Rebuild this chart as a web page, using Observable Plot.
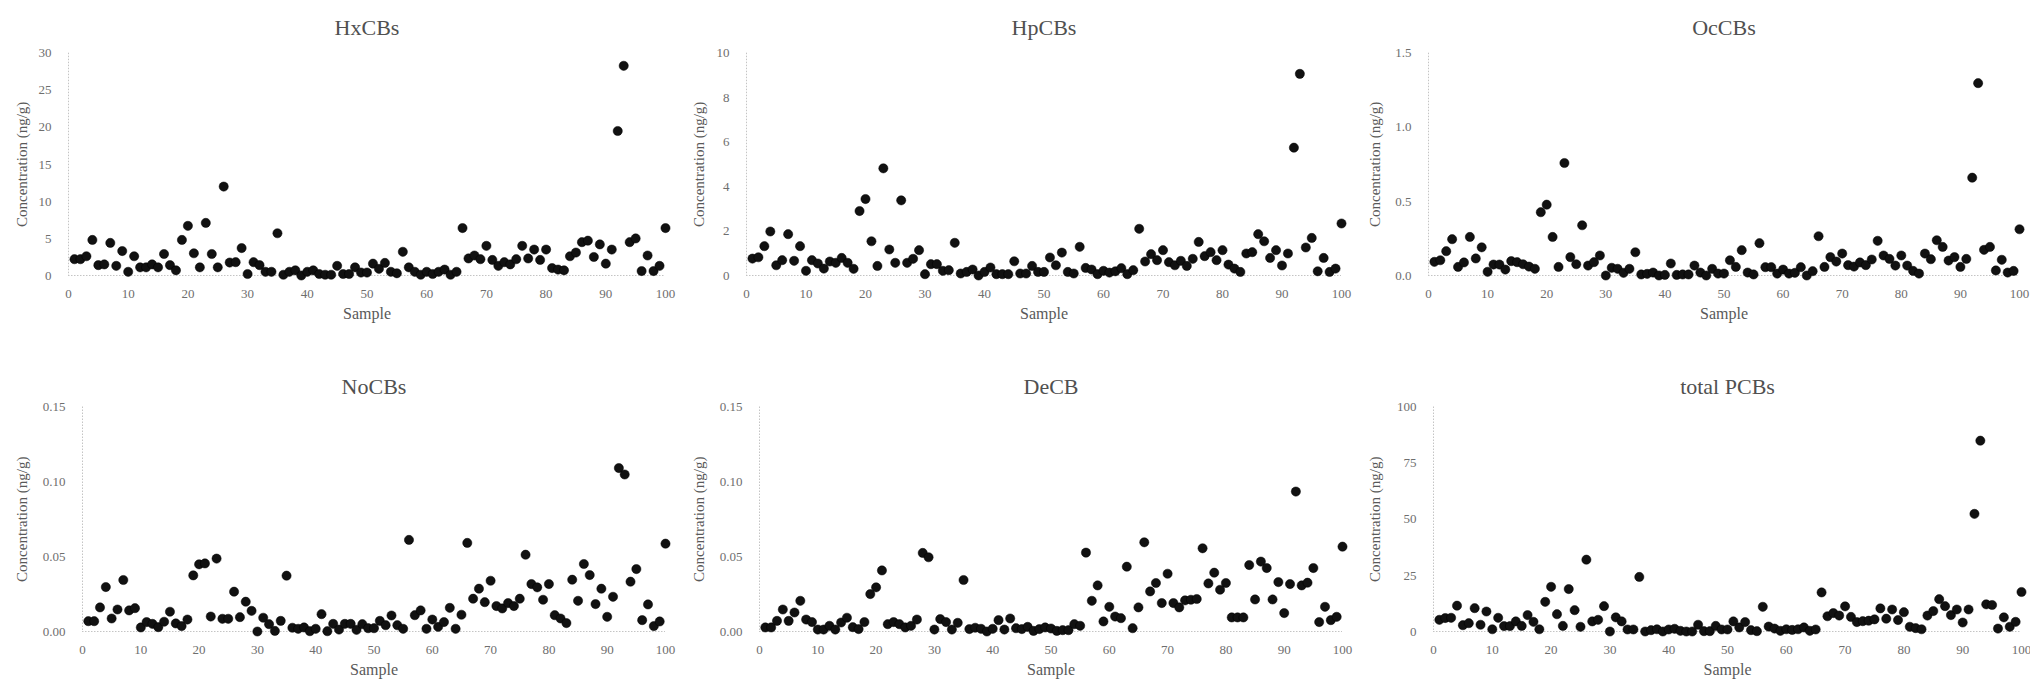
<!DOCTYPE html>
<html><head><meta charset="utf-8">
<script src="https://cdn.jsdelivr.net/npm/d3@7"></script>
<script src="https://cdn.jsdelivr.net/npm/@observablehq/plot@0.6"></script>
<style>
html,body{margin:0;padding:0;background:#fff;}
#wrap{position:relative;width:2030px;height:682px;overflow:hidden;background:#fff;}
.panel{position:absolute;}
.panel svg, .panel svg text{font-family:'Liberation Serif','Times New Roman','DejaVu Serif',serif;}
</style></head><body><div id="wrap"></div>
<script>
const samples = [1,2,3,4,5,6,7,8,9,10,11,12,13,14,15,16,17,18,19,20,21,22,23,24,25,26,27,28,29,30,31,32,33,34,35,36,37,38,39,40,41,42,43,44,45,46,47,48,49,50,51,52,53,54,55,56,57,58,59,60,61,62,63,64,65,66,67,68,69,70,71,72,73,74,75,76,77,78,79,80,81,82,83,84,85,86,87,88,89,90,91,92,93,94,95,96,97,98,99,100];

const HxCBs = [2.2,2.2,2.6,4.8,1.4,1.5,4.4,1.3,3.3,0.5, 2.6,1.1,1.1,1.5,1.1,2.9,1.4,0.7,4.8,6.7, 3.0,1.1,7.1,2.9,1.1,12.0,1.75,1.8,3.7,0.2, 1.8,1.4,0.5,0.5,5.7,0.1,0.5,0.7,0.0,0.5, 0.7,0.2,0.1,0.1,1.3,0.2,0.2,1.1,0.4,0.4, 1.6,0.9,1.7,0.5,0.3,3.2,1.1,0.5,0.1,0.5, 0.2,0.5,0.8,0.1,0.5,6.4,2.3,2.7,2.2,4.0, 2.1,1.3,1.8,1.5,2.2,4.0,2.3,3.5,2.1,3.5, 1.0,0.8,0.7,2.6,3.1,4.5,4.7,2.5,4.2,1.6, 3.5,19.5,28.3,4.5,5.0,0.6,2.7,0.6,1.3,6.4];

const HpCBs = [0.76,0.82,1.32,1.98,0.46,0.69,1.86,0.66,1.32,0.21, 0.69,0.54,0.31,0.63,0.57,0.79,0.57,0.30,2.90,3.44, 1.54,0.43,4.82,1.17,0.57,3.38,0.57,0.75,1.14,0.06, 0.51,0.51,0.21,0.24,1.47,0.09,0.16,0.27,0.0,0.16, 0.36,0.06,0.06,0.06,0.64,0.09,0.09,0.43,0.16,0.16, 0.81,0.46,1.03,0.16,0.09,1.29,0.34,0.27,0.06,0.21, 0.13,0.19,0.33,0.06,0.24,2.10,0.63,0.96,0.69,1.14, 0.60,0.46,0.66,0.43,0.75,1.51,0.87,1.05,0.69,1.14, 0.49,0.31,0.16,0.99,1.05,1.86,1.54,0.79,1.14,0.45, 0.99,5.75,9.07,1.26,1.69,0.19,0.79,0.16,0.31,2.34];

const OcCBs = [0.092,0.103,0.164,0.245,0.058,0.088,0.26,0.115,0.19,0.025, 0.074,0.074,0.04,0.097,0.09,0.076,0.06,0.045,0.427,0.478, 0.26,0.058,0.759,0.124,0.076,0.339,0.067,0.09,0.135,0.0, 0.052,0.045,0.018,0.045,0.157,0.007,0.011,0.02,0.0,0.004, 0.081,0.004,0.007,0.007,0.067,0.02,0.0,0.045,0.013,0.013, 0.103,0.058,0.171,0.02,0.007,0.218,0.056,0.056,0.013,0.04, 0.013,0.018,0.056,0.0,0.029,0.265,0.058,0.124,0.094,0.148, 0.07,0.06,0.088,0.07,0.108,0.234,0.135,0.112,0.067,0.135, 0.067,0.031,0.013,0.148,0.11,0.238,0.193,0.101,0.124,0.058, 0.112,0.66,1.298,0.173,0.193,0.034,0.106,0.02,0.031,0.312];

const NoCBs = [0.0069,0.0069,0.0161,0.0297,0.0087,0.0147,0.0344,0.0141,0.0156,0.0027, 0.0063,0.0051,0.0029,0.0065,0.0132,0.0054,0.0036,0.008,0.0375,0.0449, 0.0455,0.01,0.0487,0.0085,0.0085,0.0266,0.0096,0.0199,0.0138,0.0, 0.0092,0.0049,0.0004,0.0071,0.0373,0.0025,0.0018,0.0027,0.0002,0.0018, 0.0116,0.0002,0.0051,0.0013,0.0051,0.0051,0.0011,0.0049,0.0022,0.0022, 0.0071,0.0042,0.0107,0.0042,0.0018,0.0612,0.0109,0.0141,0.0018,0.008, 0.0031,0.0063,0.0158,0.0018,0.0112,0.0592,0.0219,0.0286,0.0196,0.0339, 0.017,0.0154,0.019,0.017,0.0219,0.0513,0.0317,0.0295,0.0212,0.0317, 0.0109,0.0087,0.0056,0.0346,0.0205,0.0451,0.0377,0.0183,0.0286,0.0098, 0.0232,0.1092,0.1049,0.0333,0.0417,0.0076,0.0181,0.0036,0.0067,0.0587];

const DeCB = [0.0027,0.0027,0.0071,0.0147,0.0071,0.0127,0.0205,0.008,0.0063,0.0013, 0.0013,0.0038,0.0013,0.006,0.0092,0.0029,0.0016,0.0063,0.025,0.0295, 0.0408,0.0049,0.0063,0.0049,0.0027,0.0038,0.008,0.0525,0.0496,0.0013, 0.0083,0.0063,0.0013,0.0058,0.0344,0.0016,0.0025,0.0018,0.0,0.0018, 0.0076,0.0013,0.0087,0.0022,0.0016,0.0031,0.0004,0.0016,0.0027,0.002, 0.0004,0.0009,0.0009,0.0049,0.0038,0.0527,0.0205,0.0308,0.0067,0.0165, 0.01,0.0089,0.0433,0.0022,0.0161,0.0596,0.0268,0.0324,0.019,0.0386, 0.019,0.0161,0.0208,0.0212,0.0217,0.0556,0.0321,0.0393,0.0279,0.0324, 0.0094,0.0094,0.0094,0.0444,0.0214,0.0467,0.0424,0.0214,0.033,0.0123, 0.0317,0.0935,0.0308,0.0326,0.0424,0.0063,0.0165,0.0076,0.0098,0.0567];

const totalPCBs = [5.2,6.0,6.1,11.5,2.8,3.7,10.4,3.0,8.9,1.0, 6.1,2.4,2.4,4.5,2.5,7.3,4.3,1.0,13.2,19.9, 7.7,2.5,18.9,9.5,2.1,32.0,4.5,5.2,11.3,0.0, 6.3,4.5,0.9,0.9,24.3,0.0,0.6,1.0,0.0,0.9, 1.2,0.3,0.0,0.0,3.0,0.15,0.15,2.5,0.9,0.9, 4.5,1.8,4.2,0.6,0.15,11.0,2.2,1.3,0.3,1.0, 0.7,1.0,1.8,0.3,0.9,17.4,6.8,8.2,7.1,11.2, 6.5,4.2,4.6,4.8,5.4,10.3,5.7,9.8,5.1,8.6, 2.1,1.5,1.0,7.1,9.1,14.4,11.3,7.3,9.8,4.0, 9.8,52.4,85.0,12.1,11.8,1.3,6.3,2.1,4.3,17.6];

const titles = ["HxCBs", "HpCBs", "OcCBs", "NoCBs", "DeCB", "total PCBs"];
const xTicks = [0,10,20,30,40,50,60,70,80,90,100];
const yTicksHx = [0,5,10,15,20,25,30];
const yTicksHp = [0,2,4,6,8,10];
const yTicksOc = [0,0.5,1.0,1.5];
const yTicksNo = [0,0.05,0.10,0.15];
const yTicksDe = [0,0.05,0.10,0.15];
const yTicksTotal = [0,25,50,75,100];
const xLabel = "Sample";
const yLabel = "Concentration (ng/g)";

// layout (not data)
const series = [HxCBs, HpCBs, OcCBs, NoCBs, DeCB, totalPCBs];
const tickSets = [yTicksHx, yTicksHp, yTicksOc, yTicksNo, yTicksDe, yTicksTotal];
const formats = [d3.format("d"), d3.format("d"), d3.format(".1f"), d3.format(".2f"), d3.format(".2f"), d3.format("d")];
const layout = [
  {left: 0,    top: 0,   ml: 68, mr: 12, mt: 52.7, mb: 66, titleDy: -34},
  {left: 677,  top: 0,   ml: 69, mr: 13, mt: 52.7, mb: 66, titleDy: -34},
  {left: 1353, top: 0,   ml: 75, mr: 11, mt: 52.7, mb: 66, titleDy: -34},
  {left: 0,    top: 341, ml: 82, mr: 12, mt: 65.5, mb: 51, titleDy: -29},
  {left: 677,  top: 341, ml: 82, mr: 12, mt: 65.5, mb: 51, titleDy: -29},
  {left: 1353, top: 341, ml: 80, mr: 9,  mt: 65.5, mb: 51, titleDy: -29}
];

const font = "'Liberation Serif', 'Times New Roman', 'DejaVu Serif', serif";
const wrap = document.getElementById("wrap");

series.forEach((vals, i) => {
  const L = layout[i];
  const ticks = tickSets[i];
  const data = samples.map((s, j) => ({sample: s, value: vals[j]}));
  const chart = Plot.plot({
    width: 677, height: 341,
    marginLeft: L.ml, marginRight: L.mr, marginTop: L.mt, marginBottom: L.mb,
    style: {fontFamily: font, background: "transparent", color: "#595959", overflow: "visible"},
    x: {domain: [0, 100]},
    y: {domain: [0, ticks[ticks.length - 1]]},
    marks: [
      Plot.ruleX([0], {stroke: "#c4c4c4", strokeWidth: 1, strokeDasharray: "1.5,1.5"}),
      Plot.ruleY([0], {stroke: "#c4c4c4", strokeWidth: 1, strokeDasharray: "1.5,1.5"}),
      Plot.axisX(xTicks, {tickSize: 0, tickPadding: 13, fontSize: 13, fontFamily: font, fill: "#6e6e6e", label: null}),
      Plot.axisY(ticks, {tickSize: 0, tickPadding: 17, fontSize: 13, fontFamily: font, fill: "#6e6e6e", tickFormat: formats[i], label: null}),
      Plot.dot(data, {x: "sample", y: "value", r: 4.6, fill: "#111111", stroke: "#000", strokeWidth: 0.5}),
      Plot.text([titles[i]], {text: d => d, frameAnchor: "top", dy: L.titleDy, fontSize: 22, fontFamily: font, fill: "#505050"}),
      Plot.text([xLabel], {text: d => d, frameAnchor: "bottom", dy: 43, fontSize: 16, fontFamily: font, fill: "#595959"}),
      Plot.text([yLabel], {text: d => d, frameAnchor: "left", dx: 22 - L.ml, rotate: -90, textAnchor: "middle", lineAnchor: "middle", fontSize: 15, fontFamily: font, fill: "#595959"})
    ]
  });
  const div = document.createElement("div");
  div.className = "panel";
  div.style.left = L.left + "px";
  div.style.top = L.top + "px";
  div.appendChild(chart);
  wrap.appendChild(div);
});
</script>
</body></html>
